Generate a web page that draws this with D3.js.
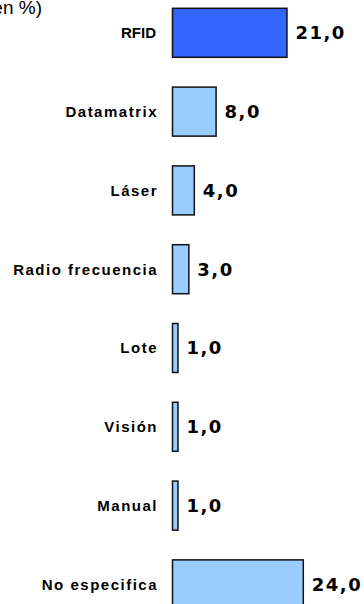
<!DOCTYPE html>
<html><head><meta charset="utf-8">
<script src="https://cdn.jsdelivr.net/npm/d3@7"></script>
<style>html,body{margin:0;padding:0;background:#fff;overflow:hidden}</style>
</head><body>
<script>
const categories = ["RFID","Datamatrix","Láser","Radio frecuencia","Lote","Visión","Manual","No especifica"];
const values = [21.0, 8.0, 4.0, 3.0, 1.0, 1.0, 1.0, 24.0];
const highlight = ["RFID"];
const titleText = "(en %)";

const W = 364, H = 604;
const svg = d3.select("body").append("svg").attr("width", W).attr("height", H);

const x = d3.scaleLinear().domain([0, 24]).range([172.5, 303.3]);
const y = d3.scaleBand().domain(categories).range([8.3, 608.9]).paddingInner(0.378).paddingOuter(0);

svg.append("text").attr("x", 42).attr("y", 14).attr("text-anchor", "end")
  .attr("font-family", "Liberation Sans, Arial, sans-serif").attr("font-size", 19)
  .attr("fill", "#000").text(titleText);

const data = categories.map((c, i) => ({c, v: values[i]}));

svg.selectAll("rect.bar").data(data).enter().append("rect").attr("class", "bar")
  .attr("x", x(0)).attr("y", d => y(d.c))
  .attr("width", d => x(d.v) - x(0)).attr("height", y.bandwidth())
  .attr("fill", d => highlight.includes(d.c) ? "#3366FF" : "#99CCFF")
  .attr("stroke", "#111").attr("stroke-width", 1.5);

svg.selectAll("text.cat").data(data).enter().append("text").attr("class", "cat")
  .attr("x", d => d.c === "RFID" ? 156 : 158).attr("y", d => y(d.c) + y.bandwidth() / 2)
  .attr("dy", "0.36em").attr("text-anchor", "end")
  .attr("font-family", "Liberation Sans, Arial, sans-serif").attr("font-weight", "bold")
  .attr("font-size", 15).attr("letter-spacing", d => d.c === "RFID" ? 0 : 1.5)
  .attr("fill", "#000").text(d => d.c);

const fmt = v => v.toFixed(1).replace(".", ",");
svg.selectAll("text.val").data(data).enter().append("text").attr("class", "val")
  .attr("x", d => x(d.v) + 8.5).attr("y", d => y(d.c) + y.bandwidth() / 2)
  .attr("dy", "0.36em")
  .attr("font-family", "DejaVu Sans, Verdana, sans-serif").attr("font-weight", "bold")
  .attr("font-size", 18).attr("letter-spacing", 1.5)
  .attr("fill", "#000").text(d => fmt(d.v));
</script>
</body></html>
